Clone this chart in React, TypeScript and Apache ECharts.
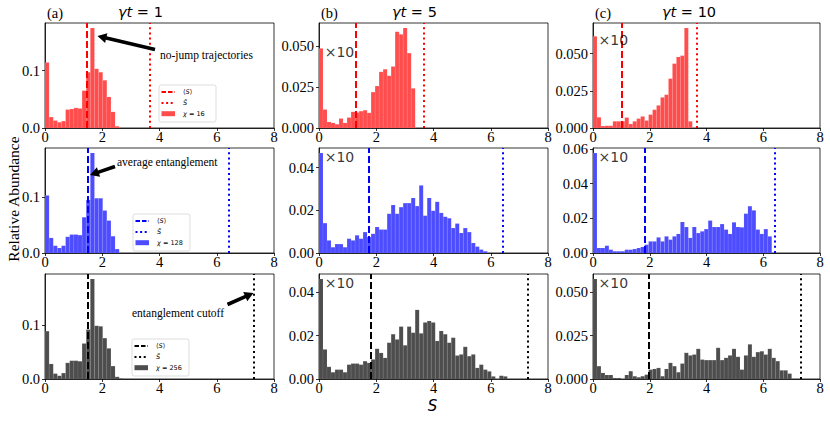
import React, { useEffect, useRef } from "react";
import * as echarts from "echarts";

// ---------- data ----------
const X_TICKS = [0, 2, 4, 6, 8];
const BIN_A = 0.144; // bin width, column (a)
const BIN_BC = 0.14; // bin width, columns (b), (c)

// chi = 16 (row 1)
const chi16_t1 = [0.114, 0.019, 0.013, 0.010, 0.012, 0.032, 0.033, 0.035, 0.034, 0.065, 0.097, 0.174, 0.103, 0.097, 0.083, 0.054, 0.028, 0.003];
const chi16_t5 = [0.0488, 0.0113, 0.0037, 0.0031, 0.0023, 0.0058, 0.0031, 0.0064, 0.0099, 0.0095, 0.0103, 0.0109, 0.0093, 0.022, 0.0257, 0.0344, 0.036, 0.032, 0.0377, 0.059, 0.0574, 0.0613, 0.0459, 0.0243];
const chi16_t10 = [0.0617, 0.0072, 0.0013, 0.0015, 0.0015, 0.0045, 0.0045, 0.0045, 0.007, 0.0027, 0.0045, 0.0063, 0.0078, 0.005, 0.009, 0.0123, 0.0152, 0.0206, 0.0224, 0.0332, 0.0433, 0.0478, 0.0487, 0.0673, 0.0045];
// chi = 128 (row 2)
const chi128_t1 = [0.103, 0.027, 0.013, 0.009, 0.013, 0.029, 0.033, 0.033, 0.032, 0.064, 0.095, 0.179, 0.098, 0.098, 0.076, 0.058, 0.030, 0.007];
const chi128_t5 = [0.0469, 0.014, 0.0059, 0.0027, 0.0042, 0.0042, 0.0027, 0.0067, 0.0059, 0.0083, 0.0067, 0.0098, 0.0075, 0.009, 0.0122, 0.011, 0.011, 0.0184, 0.0225, 0.0184, 0.0215, 0.0234, 0.0234, 0.0258, 0.022, 0.0317, 0.0175, 0.0258, 0.0198, 0.024, 0.0188, 0.017, 0.0163, 0.0117, 0.0138, 0.0094, 0.0117, 0.0098, 0.0047, 0.003, 0.0016, 0.0008];
const chi128_t10 = [0.0577, 0.0029, 0.0029, 0.0042, 0.0019, 0.001, 0.001, 0.001, 0.0019, 0.0019, 0.0023, 0.0029, 0.0035, 0.0048, 0.0067, 0.0067, 0.009, 0.0067, 0.0096, 0.0077, 0.0096, 0.011, 0.0179, 0.015, 0.0087, 0.015, 0.0115, 0.0125, 0.0138, 0.0187, 0.015, 0.015, 0.0167, 0.0135, 0.011, 0.0177, 0.015, 0.0148, 0.0227, 0.027, 0.0246, 0.0135, 0.011, 0.0138, 0.0096];
// chi = 256 (row 3)
const chi256_t1 = [0.089, 0.028, 0.010, 0.006, 0.011, 0.030, 0.034, 0.034, 0.033, 0.066, 0.092, 0.186, 0.099, 0.098, 0.076, 0.057, 0.024, 0.004, 0.001];
const chi256_t5 = [0.046, 0.0136, 0.0056, 0.0031, 0.0043, 0.0043, 0.0031, 0.0066, 0.0071, 0.0071, 0.0066, 0.0082, 0.0074, 0.009, 0.0139, 0.012, 0.0097, 0.0167, 0.0206, 0.0182, 0.0241, 0.0155, 0.0241, 0.0213, 0.0318, 0.021, 0.026, 0.0267, 0.026, 0.0175, 0.0221, 0.0206, 0.0167, 0.019, 0.0108, 0.0113, 0.0148, 0.0105, 0.0113, 0.0051, 0.0066, 0.0043, 0.0035, 0.0012, 0, 0.0015, 0.0012];
const chi256_t10 = [0.0577, 0.0074, 0.0035, 0.0023, 0.0023, 0.0006, 0.0006, 0, 0.0023, 0.0045, 0.0016, 0.001, 0.0016, 0.0025, 0.0054, 0.0058, 0.0064, 0.0016, 0.0058, 0.0093, 0.0074, 0.0039, 0.0089, 0.0151, 0.0136, 0.0141, 0.0174, 0.0112, 0.0109, 0.0109, 0.0109, 0.018, 0.0109, 0.0122, 0.0136, 0.0174, 0.0128, 0.0054, 0.0136, 0.02, 0.0128, 0.0155, 0.016, 0.0141, 0.0174, 0.0122, 0.0103, 0.005, 0.005, 0.0031];

// mean entanglement <S> per column (gt = 1, 5, 10)
const MEAN_CHI16 = [1.465, 1.3, 1.035];
const MEAN_CHI128 = [1.48, 1.74, 1.83];
const MEAN_CHI256 = [1.48, 1.8, 1.96];
// entanglement cutoff S-bar per row
const SBAR = [3.67, 6.41, 7.31];

const Y_TICKS_A = [0, 0.1];
const Y_TICKS_025 = [0, 0.025, 0.05];
const Y_TICKS_02 = [0, 0.02, 0.04];
const Y_TICKS_02B = [0, 0.02, 0.04, 0.06];

const CHI_LABELS = ["16", "128", "256"];
const TITLES = ["1", "5", "10"];
const LETTERS = ["(a)", "(b)", "(c)"];

// ---------- styles / layout ----------
const BAR_COLORS = ["#ff4d4d", "#4d4dff", "#4d4d4d"];
const LINE_COLORS = ["#ff0000", "#0000ff", "#000000"];
const COL_LEFT = [45, 319, 593];
const COL_WIDTH = [229, 229, 227];
const ROW_TOP = [23, 148, 274];
const ROW_H = 105;
const SERIF = "Liberation Serif";
const SANS = "DejaVu Sans";
const TICK_FONT = 14.5;

type Panel = {
  vals: number[];
  bin: number;
  row: number;
  col: number;
  mean: number;
  ticks: number[];
  dec: number;
};

const panels: Panel[] = [
  { vals: chi16_t1, bin: BIN_A, row: 0, col: 0, mean: MEAN_CHI16[0], ticks: Y_TICKS_A, dec: 1 },
  { vals: chi16_t5, bin: BIN_BC, row: 0, col: 1, mean: MEAN_CHI16[1], ticks: Y_TICKS_025, dec: 3 },
  { vals: chi16_t10, bin: BIN_BC, row: 0, col: 2, mean: MEAN_CHI16[2], ticks: Y_TICKS_025, dec: 3 },
  { vals: chi128_t1, bin: BIN_A, row: 1, col: 0, mean: MEAN_CHI128[0], ticks: Y_TICKS_A, dec: 1 },
  { vals: chi128_t5, bin: BIN_BC, row: 1, col: 1, mean: MEAN_CHI128[1], ticks: Y_TICKS_02, dec: 2 },
  { vals: chi128_t10, bin: BIN_BC, row: 1, col: 2, mean: MEAN_CHI128[2], ticks: Y_TICKS_02B, dec: 2 },
  { vals: chi256_t1, bin: BIN_A, row: 2, col: 0, mean: MEAN_CHI256[0], ticks: Y_TICKS_A, dec: 1 },
  { vals: chi256_t5, bin: BIN_BC, row: 2, col: 1, mean: MEAN_CHI256[1], ticks: Y_TICKS_02, dec: 2 },
  { vals: chi256_t10, bin: BIN_BC, row: 2, col: 2, mean: MEAN_CHI256[2], ticks: Y_TICKS_025, dec: 3 },
];

function arrowPoints(tail: number[], tip: number[], shaftW = 3.6, headW = 10, headL = 9) {
  const dx = tip[0] - tail[0];
  const dy = tip[1] - tail[1];
  const len = Math.hypot(dx, dy);
  const ux = dx / len, uy = dy / len;
  const nx = -uy, ny = ux;
  const bx = tip[0] - ux * headL, by = tip[1] - uy * headL;
  const s = shaftW / 2, h = headW / 2;
  return [
    [tail[0] + nx * s, tail[1] + ny * s],
    [bx + nx * s, by + ny * s],
    [bx + nx * h, by + ny * h],
    [tip[0], tip[1]],
    [bx - nx * h, by - ny * h],
    [bx - nx * s, by - ny * s],
    [tail[0] - nx * s, tail[1] - ny * s],
  ];
}

function legendGroup(x: number, y: number, row: number) {
  const lc = LINE_COLORS[row];
  const txt = (ty: number, text: string) => ({
    type: "text",
    x: 24,
    y: ty,
    style: {
      text,
      fill: "#000",
      fontSize: 6.5,
      fontFamily: SANS,
      align: "left",
      verticalAlign: "middle",
      textAlign: "left",
      textVerticalAlign: "middle",
      rich: { i: { fontStyle: "italic", fontSize: 6.5, fontFamily: SANS } },
    },
  });
  return {
    type: "group",
    x,
    y,
    z: 100,
    children: [
      {
        type: "rect",
        shape: { x: 0, y: 0, width: 57, height: 37, r: 2 },
        style: { fill: "rgba(255,255,255,0.85)", stroke: "#d4d4d4", lineWidth: 0.8 },
      },
      { type: "line", shape: { x1: 2.5, y1: 7, x2: 16, y2: 7 }, style: { stroke: lc, lineWidth: 2, lineDash: [4.5, 2] } },
      txt(7, "⟨{i|S}⟩"),
      { type: "line", shape: { x1: 2.5, y1: 18, x2: 16, y2: 18 }, style: { stroke: lc, lineWidth: 2, lineDash: [2, 2.6] } },
      txt(18, "{i|S̄}"),
      { type: "rect", shape: { x: 2.5, y: 26.2, width: 13.5, height: 5 }, style: { fill: BAR_COLORS[row] } },
      txt(28.7, "{i|χ} = " + CHI_LABELS[row]),
    ],
  };
}

function textEl(x: number, y: number, text: string, size: number, family: string, align = "left", extra: any = {}) {
  const { style: extraStyle, ...rest } = extra;
  return {
    type: "text",
    x,
    y,
    z: 100,
    ...rest,
    style: {
      text,
      fill: "#000",
      fontSize: size,
      fontFamily: family,
      align,
      verticalAlign: "middle",
      textAlign: align,
      textVerticalAlign: "middle",
      rich: { i: { fontStyle: "italic", fontSize: size, fontFamily: SANS } },
      ...(extraStyle || {}),
    },
  };
}

export default function App() {
  const ref = useRef<HTMLDivElement>(null);
  useEffect(() => {
    if (!ref.current) return;
    const chart = echarts.init(ref.current, undefined, { renderer: "svg" });

    const grid = panels.map((p) => ({
      left: COL_LEFT[p.col],
      top: ROW_TOP[p.row],
      width: COL_WIDTH[p.col],
      height: ROW_H,
      show: true,
      borderColor: "#000",
      borderWidth: 0.8,
      backgroundColor: "transparent",
      containLabel: false,
    }));

    const labelStyle = { fontFamily: SERIF, fontSize: TICK_FONT, color: "#000" };

    const xAxis = panels.map((p, i) => ({
      gridIndex: i,
      type: "value",
      min: X_TICKS[0],
      max: X_TICKS[X_TICKS.length - 1],
      interval: X_TICKS[1] - X_TICKS[0],
      axisLine: { show: true, lineStyle: { color: "#000", width: 0.8 } },
      axisTick: { show: true, inside: false, length: 3, lineStyle: { color: "#000", width: 0.8 } },
      axisLabel: { show: true, margin: 1, ...labelStyle },
      splitLine: { show: false },
    }));

    const yAxis = panels.map((p, i) => ({
      gridIndex: i,
      type: "value",
      min: 0,
      max: Math.max(...p.vals) * 1.05,
      interval: p.ticks[1] - p.ticks[0],
      axisLine: { show: true, lineStyle: { color: "#000", width: 0.8 } },
      axisTick: { show: true, inside: false, length: 3, lineStyle: { color: "#000", width: 0.8 }, customValues: p.ticks },
      axisLabel: {
        show: true,
        margin: 5,
        ...labelStyle,
        showMaxLabel: false,
        formatter: (v: number) =>
          p.ticks.some((t) => Math.abs(t - v) < 1e-9) ? v.toFixed(p.dec) : "",
      },
      splitLine: { show: false },
    }));

    const series: any[] = [];
    panels.forEach((p, i) => {
      const fill = BAR_COLORS[p.row];
      const lc = LINE_COLORS[p.row];
      series.push({
        type: "custom",
        xAxisIndex: i,
        yAxisIndex: i,
        silent: true,
        z: 2,
        encode: { x: [0, 1], y: 2 },
        data: p.vals.map((v, k) => [k * p.bin, (k + 1) * p.bin, v]),
        renderItem: (params: any, api: any) => {
          const a = api.coord([api.value(0), api.value(2)]);
          const b = api.coord([api.value(1), 0]);
          return {
            type: "rect",
            shape: { x: a[0], y: a[1], width: b[0] - a[0], height: b[1] - a[1] },
            style: { fill, stroke: "rgba(255,255,255,0.18)", lineWidth: 0.4 },
          };
        },
        markLine: {
          silent: true,
          symbol: "none",
          animation: false,
          label: { show: false },
          data: [
            { xAxis: p.mean, lineStyle: { color: lc, width: 2, type: [7, 3] } },
            { xAxis: SBAR[p.row], lineStyle: { color: lc, width: 2, type: [2, 3.2] } },
          ],
        },
      });
      if (p.col > 0) {
        series.push({
          type: "scatter",
          xAxisIndex: i,
          yAxisIndex: i,
          silent: true,
          z: 5,
          symbolSize: 1,
          itemStyle: { color: "rgba(0,0,0,0)" },
          data: [[0.18, p.vals[0]]],
          label: {
            show: true,
            formatter: "×10",
            position: "right",
            distance: 0,
            offset: [0, 3.5],
            fontFamily: SANS,
            fontSize: 14,
            color: "#000",
          },
        });
      }
    });

    const graphic: any[] = [];
    // column letters and titles
    LETTERS.forEach((l, c) => {
      graphic.push(textEl(COL_LEFT[c] + 2, 12.5, l, 14.5, SERIF));
    });
    const titleX = [118, 392, 662];
    TITLES.forEach((t, c) => {
      graphic.push(textEl(titleX[c], 12, "{i|γt} = " + t, 14.5, SANS));
    });
    // annotations
    graphic.push(textEl(160, 55, "no-jump trajectories", 11.5, SERIF));
    graphic.push({ type: "polygon", z: 100, shape: { points: arrowPoints([155, 49.5], [97.5, 36]) }, style: { fill: "#000" } });
    graphic.push(textEl(117, 161.5, "average entanglement", 11.5, SERIF));
    graphic.push({ type: "polygon", z: 100, shape: { points: arrowPoints([115, 166.5], [90, 175]) }, style: { fill: "#000" } });
    graphic.push(textEl(132, 313, "entanglement cutoff", 11.5, SERIF));
    graphic.push({ type: "polygon", z: 100, shape: { points: arrowPoints([227.5, 304.5], [253.5, 293]) }, style: { fill: "#000" } });
    // legends
    graphic.push(legendGroup(159, 85, 0));
    graphic.push(legendGroup(133, 214, 1));
    graphic.push(legendGroup(132, 339, 2));
    // axis titles
    graphic.push(textEl(13, 199, "Relative Abundance", 15.5, SERIF, "center", { rotation: Math.PI / 2 }));
    graphic.push(textEl(432.5, 405.5, "{i|S}", 15, SANS, "center", { style: { rich: { i: { fontStyle: "italic", fontSize: 15, fontFamily: SANS } } } }));

    chart.setOption({
      animation: false,
      backgroundColor: "#fff",
      textStyle: { fontFamily: SERIF, fontSize: TICK_FONT, color: "#000" },
      grid,
      xAxis,
      yAxis,
      series,
      graphic,
    });
    return () => chart.dispose();
  }, []);

  return <div ref={ref} style={{ position: "absolute", left: 0, top: 0, width: 830, height: 421 }} />;
}
